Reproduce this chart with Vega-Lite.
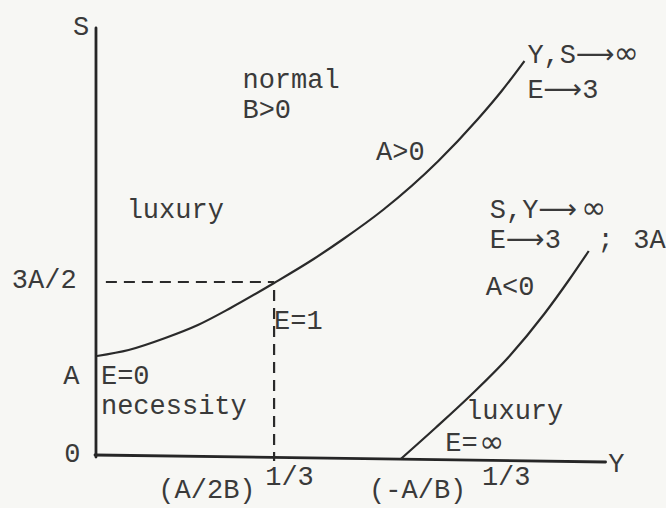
{
  "$schema": "https://vega.github.io/schema/vega-lite/v6.json",
  "width": 666,
  "height": 508,
  "padding": 0,
  "autosize": {"type": "fit", "contains": "padding"},
  "background": "#f7f7f4",
  "config": {"view": {"stroke": null}},
  "datasets": {
    "axes": [
      {"part": "S axis", "i": 0, "Y": 0, "S": 427},
      {"part": "S axis", "i": 1, "Y": 0, "S": -2},
      {"part": "Y axis", "i": 0, "Y": -1, "S": 0},
      {"part": "Y axis", "i": 1, "Y": 515, "S": -7}
    ],
    "curves": [
      {"part": "A>0", "i": 0, "Y": 1, "S": 99},
      {"part": "A>0", "i": 1, "Y": 33, "S": 105},
      {"part": "A>0", "i": 2, "Y": 70, "S": 117},
      {"part": "A>0", "i": 3, "Y": 103, "S": 130},
      {"part": "A>0", "i": 4, "Y": 136, "S": 147},
      {"part": "A>0", "i": 5, "Y": 180, "S": 172},
      {"part": "A>0", "i": 6, "Y": 220, "S": 196},
      {"part": "A>0", "i": 7, "Y": 250, "S": 216},
      {"part": "A>0", "i": 8, "Y": 290, "S": 245},
      {"part": "A>0", "i": 9, "Y": 346, "S": 294},
      {"part": "A>0", "i": 10, "Y": 386, "S": 336},
      {"part": "A>0", "i": 11, "Y": 410, "S": 364},
      {"part": "A>0", "i": 12, "Y": 433, "S": 394},
      {"part": "A<0", "i": 0, "Y": 308, "S": -4},
      {"part": "A<0", "i": 1, "Y": 343, "S": 27},
      {"part": "A<0", "i": 2, "Y": 379, "S": 60},
      {"part": "A<0", "i": 3, "Y": 418, "S": 99},
      {"part": "A<0", "i": 4, "Y": 453, "S": 141},
      {"part": "A<0", "i": 5, "Y": 478, "S": 175},
      {"part": "A<0", "i": 6, "Y": 498, "S": 204}
    ],
    "guides": [
      {"part": "S level", "i": 0, "Y": 10, "S": 173},
      {"part": "S level", "i": 1, "Y": 180, "S": 173},
      {"part": "Y level", "i": 0, "Y": 180, "S": 165},
      {"part": "Y level", "i": 1, "Y": 180, "S": -6}
    ],
    "labelsLeft": [
      {"text": "normal", "Y": 148, "S": 375},
      {"text": "B>0", "Y": 148, "S": 345},
      {"text": "luxury", "Y": 31, "S": 245},
      {"text": "3A/2", "Y": -85, "S": 175},
      {"text": "E=0", "Y": 5, "S": 79},
      {"text": "necessity", "Y": 5, "S": 49},
      {"text": "E=1", "Y": 180, "S": 134},
      {"text": "A>0", "Y": 283, "S": 303},
      {"text": "Y,S⟶", "Y": 436, "S": 400},
      {"text": "E⟶3", "Y": 436, "S": 365},
      {"text": "S,Y⟶", "Y": 398, "S": 245},
      {"text": "E⟶3", "Y": 398, "S": 215},
      {"text": "3A", "Y": 543, "S": 215},
      {"text": "A<0", "Y": 394, "S": 168},
      {"text": "luxury", "Y": 374, "S": 44},
      {"text": "E=", "Y": 353, "S": 12},
      {"text": "(A/2B)", "Y": 63, "S": -35},
      {"text": "1/3", "Y": 171, "S": -22},
      {"text": "(-A/B)", "Y": 276, "S": -35},
      {"text": "1/3", "Y": 390, "S": -22}
    ],
    "labelsCentre": [
      {"text": "S", "Y": -15, "S": 428},
      {"text": "A", "Y": -25, "S": 79},
      {"text": "0", "Y": -24, "S": 1},
      {"text": "Y", "Y": 526, "S": -9},
      {"text": ";", "Y": 515, "S": 215}
    ],
    "infinity": [
      {"text": "∞", "Y": 536, "S": 401},
      {"text": "∞", "Y": 503, "S": 246},
      {"text": "∞", "Y": 400, "S": 12}
    ]
  },
  "encoding": {
    "x": {"field": "Y", "type": "quantitative", "axis": null,
          "scale": {"domain": [-97, 569], "nice": false, "zero": false}},
    "y": {"field": "S", "type": "quantitative", "axis": null,
          "scale": {"domain": [-53, 455], "nice": false, "zero": false}}
  },
  "layer": [
    {
      "data": {"name": "axes"},
      "mark": {"type": "line", "color": "#262626", "strokeWidth": 2.8, "strokeCap": "round"},
      "encoding": {"detail": {"field": "part"}, "order": {"field": "i"}}
    },
    {
      "data": {"name": "curves"},
      "mark": {"type": "line", "color": "#2a2a2a", "strokeWidth": 2.2, "interpolate": "monotone"},
      "encoding": {"detail": {"field": "part"}, "order": {"field": "i"}}
    },
    {
      "data": {"name": "guides"},
      "mark": {"type": "line", "color": "#2a2a2a", "strokeWidth": 2.2, "strokeDash": [11, 7]},
      "encoding": {"detail": {"field": "part"}, "order": {"field": "i"}}
    },
    {
      "data": {"name": "labelsLeft"},
      "mark": {"type": "text", "align": "left", "baseline": "middle",
               "font": "Liberation Mono, DejaVu Sans", "fontSize": 27, "color": "#3a3a3a"},
      "encoding": {"text": {"field": "text"}}
    },
    {
      "data": {"name": "labelsCentre"},
      "mark": {"type": "text", "align": "center", "baseline": "middle",
               "font": "Liberation Mono", "fontSize": 27, "color": "#3a3a3a"},
      "encoding": {"text": {"field": "text"}}
    },
    {
      "data": {"name": "infinity"},
      "mark": {"type": "text", "align": "center", "baseline": "middle",
               "font": "DejaVu Sans", "fontSize": 30, "color": "#3a3a3a"},
      "encoding": {"text": {"field": "text"}}
    }
  ]
}
